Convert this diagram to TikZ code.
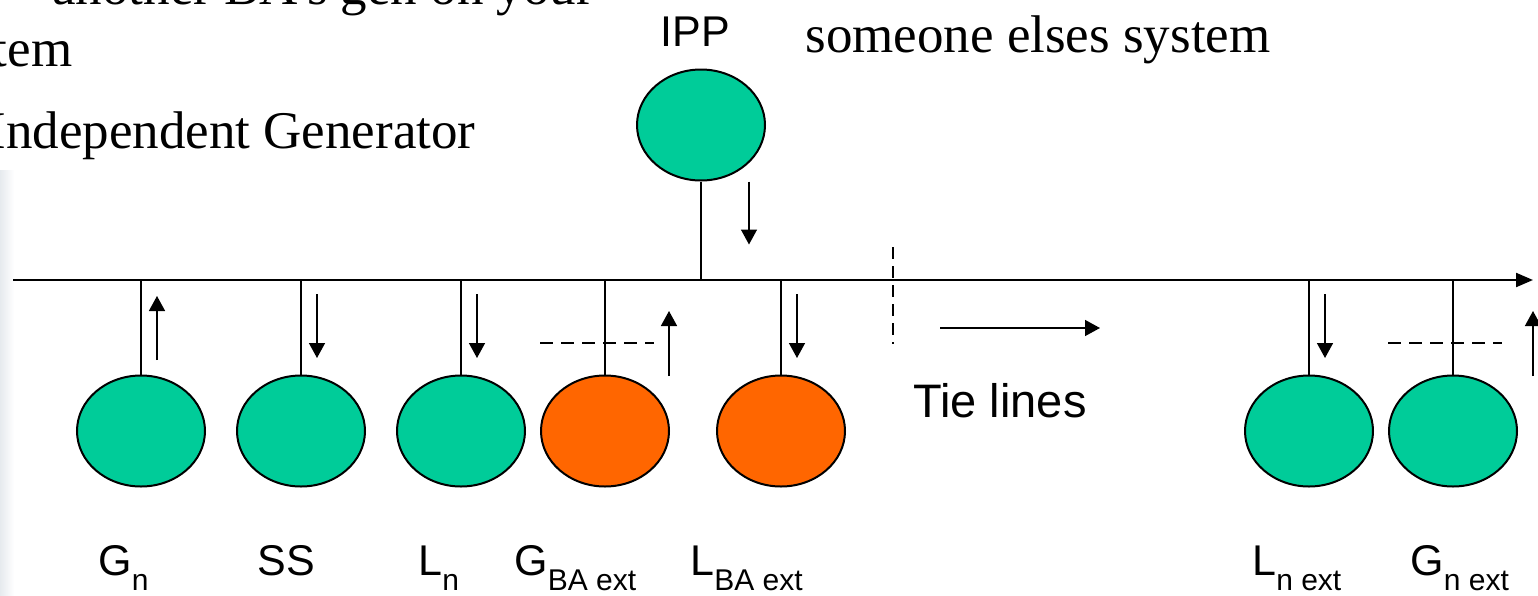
\documentclass[tikz,border=0pt]{standalone}
\usepackage{fontspec}
\setmainfont{Liberation Serif}
\setsansfont{Liberation Sans}
\usetikzlibrary{arrows.meta,calc,shapes.geometric}
\definecolor{tgreen}{HTML}{00CC99}
\definecolor{torange}{HTML}{FF6600}
\definecolor{tstrip}{HTML}{E6EAEE}
\newcommand{\sublab}[2]{#1\raisebox{-7.5pt}{\fontsize{15}{15}\selectfont #2}}
\begin{document}
\begin{tikzpicture}[x=0.5pt,y=-0.5pt,
  bubble/.style={ellipse, draw=black, line width=1pt, minimum width=64pt, minimum height=55.5pt, inner sep=0pt},
  gbub/.style={bubble, fill=tgreen},
  obub/.style={bubble, fill=torange},
  stem/.style={line width=0.65pt},
  bus/.style={line width=1.1pt, -{Triangle[length=8.5pt,width=7pt]}},
  flow/.style={line width=0.75pt, -{Triangle[length=7.5pt,width=8pt]}},
  dashmark/.style={line width=0.65pt, dash pattern=on 6.5pt off 4pt},
  lab/.style={font=\sffamily\fontsize{21.5}{21.5}\selectfont, anchor=base west, inner sep=0pt},
  serif/.style={font=\fontsize{26.5}{26.5}\selectfont, anchor=base west, inner sep=0pt}]
\useasboundingbox (0,0) rectangle (1538,595);
\shade[left color=tstrip, right color=white] (0,170) rectangle (14,595);

% top text
\node[serif] (t1) at (52,4) {another BA's gen on your};
\node[serif] (t2) at (-7.5,66) {tem};
\node[serif] (t3) at (-12,148) {Independent Generator};
\node[serif] (t4) at (805,52) {someone elses system};

% bus
\coordinate (busL) at (13,280);
\coordinate (busR) at (1533,280);
\draw[bus] (busL) -- (busR);

% bubbles
\node[gbub] (ipp) at (701,125) {};
\node[gbub] (gn) at (141,431) {};
\node[gbub] (ss) at (301,431) {};
\node[gbub] (ln) at (461,431) {};
\node[obub] (gba) at (605,431) {};
\node[obub] (lba) at (781,431) {};
\node[gbub] (lnx) at (1309,431) {};
\node[gbub] (gnx) at (1453,431) {};

% stems
\draw[stem] (ipp.south) -- (ipp.south |- busL);
\foreach \n in {gn,ss,ln,gba,lba,lnx,gnx}
  \draw[stem] (\n.north) -- (\n.north |- busL);

% flow arrows
\draw[flow] ([shift={(48,0)}]ipp.south) -- ++(0,63);
\draw[flow] ([shift={(16,-14.5)}]gn.north) -- ++(0,-64);
\draw[flow] ([shift={(16,-80.5)}]ss.north) -- ++(0,64);
\draw[flow] ([shift={(16,-80.5)}]ln.north) -- ++(0,64);
\draw[flow] ([shift={(64,1.5)}]gba.north) -- ++(0,-65);
\draw[flow] ([shift={(16,-80.5)}]lba.north) -- ++(0,64);
\draw[flow] ([shift={(16,-80.5)}]lnx.north) -- ++(0,64);
\draw[flow] ([shift={(80,1.5)}]gnx.north) -- ++(0,-65);

% dashed marks
\draw[dashmark] ([shift={(-65,-31.5)}]gba.north) -- ++(114,0);
\draw[dashmark] ([shift={(-65,-31.5)}]gnx.north) -- ++(114,0);
\coordinate (bd1) at (893,247);
\coordinate (bd2) at (893,344);
\draw[line width=0.65pt, dash pattern=on 6pt off 3.5pt] (bd1) -- (bd2);

% tie line arrow
\coordinate (tl1) at (940,328);
\coordinate (tl2) at (1100,328);
\draw[flow] (tl1) -- (tl2);

% labels
\node[lab] (tipp) at (660,46) {IPP};
\node[lab, font=\sffamily\fontsize{23.5}{23.5}\selectfont] (ttie) at (913,417) {Tie lines};
\node[lab] (tgn) at (98,575) {\sublab{G}{n}};
\node[lab] (tss) at (257,575) {SS};
\node[lab] (tln) at (418,575) {\sublab{L}{n}};
\node[lab] (tgba) at (514,575) {\sublab{G}{BA ext}};
\node[lab] (tlba) at (690,575) {\sublab{L}{BA ext}};
\node[lab] (tlnx) at (1252,575) {\sublab{L}{n ext}};
\node[lab] (tgnx) at (1410,575) {\sublab{G}{n ext}};
\end{tikzpicture}
\end{document}
